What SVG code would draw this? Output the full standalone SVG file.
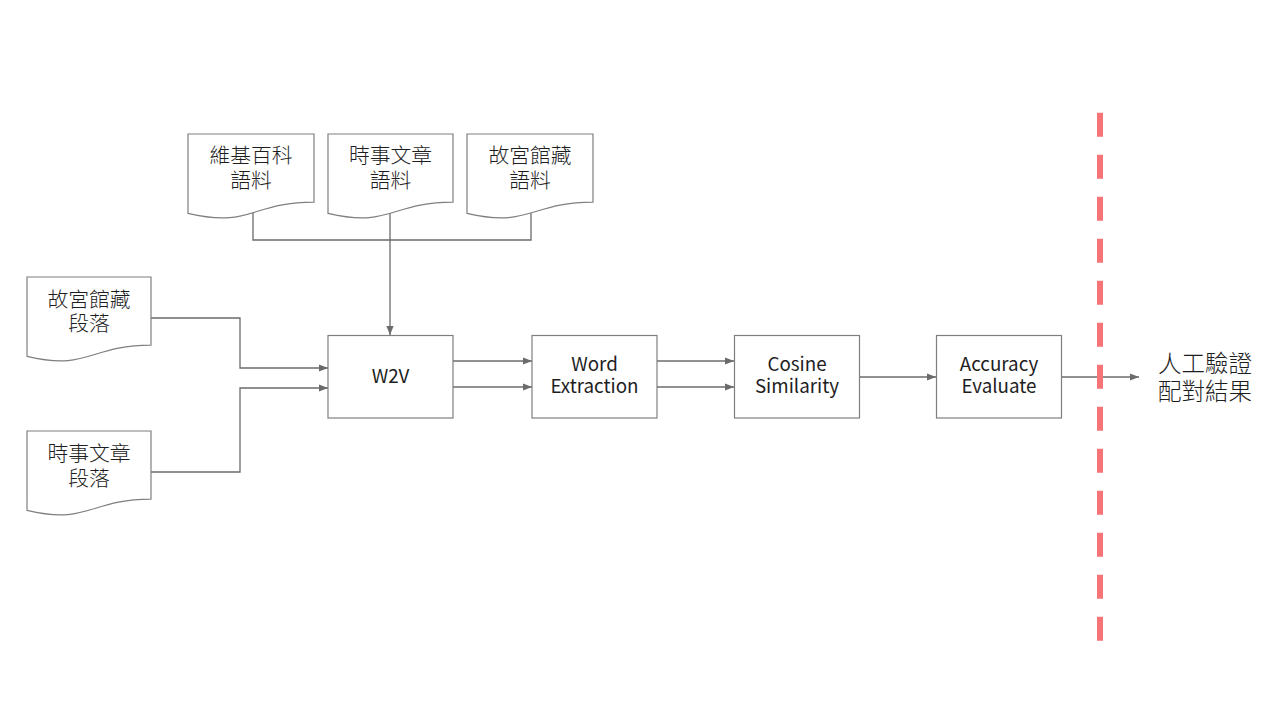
<svg xmlns="http://www.w3.org/2000/svg" width="1280" height="720" viewBox="0 0 1280 720">
<defs>
<style>
.doc,.box{fill:#FFFFFF;stroke:#7F7F7F;stroke-width:1.2}
.con{fill:none;stroke:#6B6B6B;stroke-width:1.3}
.t{font-family:"Noto Sans CJK TC","Noto Sans CJK SC","Noto Sans",sans-serif;fill:#1E1E1E;text-anchor:middle}
.cj{font-size:20.8px;font-weight:300}
.en{font-size:18.8px}
.res{font-size:23.5px;font-weight:300;text-anchor:start}
</style>
<marker id="arr" viewBox="0 0 10 10" refX="10" refY="5" markerWidth="9" markerHeight="9" markerUnits="userSpaceOnUse" orient="auto">
<path d="M0,1 L10,5 L0,9 Z" fill="#6B6B6B"/>
</marker>
</defs>
<rect width="1280" height="720" fill="#FFFFFF"/>
<g id="connectors">
<path class="con" d="M253,213 V240 H531 V213"/>
<path class="con" d="M390,213 V335" marker-end="url(#arr)"/>
<path class="con" d="M151,318 H240 V368 H328" marker-end="url(#arr)"/>
<path class="con" d="M151,472 H240 V388 H328" marker-end="url(#arr)"/>
<path class="con" d="M453,361 H532" marker-end="url(#arr)"/>
<path class="con" d="M453,387 H532" marker-end="url(#arr)"/>
<path class="con" d="M657,361 H734" marker-end="url(#arr)"/>
<path class="con" d="M657,387 H734" marker-end="url(#arr)"/>
<path class="con" d="M859,377 H936" marker-end="url(#arr)"/>
<path class="con" d="M1061,377 H1139" marker-end="url(#arr)"/>
</g>
<g id="doc-wiki">
<path class="doc" d="M188,134 H314 V202.2 C251,202.2 251,228.1 188,213.4 Z"/>
<text class="t cj" x="251" y="162.5">維基百科</text>
<text class="t cj" x="251" y="187.5">語料</text>
</g>
<g id="doc-news">
<path class="doc" d="M328,134 H453 V202.2 C390.5,202.2 390.5,228.1 328,213.4 Z"/>
<text class="t cj" x="390.5" y="162.5">時事文章</text>
<text class="t cj" x="390.5" y="187.5">語料</text>
</g>
<g id="doc-palace">
<path class="doc" d="M467,134 H593 V202.2 C530,202.2 530,228.1 467,213.4 Z"/>
<text class="t cj" x="530" y="162.5">故宮館藏</text>
<text class="t cj" x="530" y="187.5">語料</text>
</g>
<g id="doc-palace-para">
<path class="doc" d="M27,277 H151 V345.2 C89,345.2 89,371.1 27,356.4 Z"/>
<text class="t cj" x="89" y="306.5">故宮館藏</text>
<text class="t cj" x="89" y="330.5">段落</text>
</g>
<g id="doc-news-para">
<path class="doc" d="M27,431 H151 V499.2 C89,499.2 89,525.1 27,510.4 Z"/>
<text class="t cj" x="89" y="460.5">時事文章</text>
<text class="t cj" x="89" y="485.5">段落</text>
</g>
<g id="w2v">
<rect class="box" x="328" y="335.5" width="125" height="82.5"/>
<text class="t en" x="390.5" y="383">W2V</text>
</g>
<g id="word-extraction">
<rect class="box" x="532" y="335.5" width="125" height="82.5"/>
<text class="t en" x="594.5" y="370.5">Word</text>
<text class="t en" x="594.5" y="393">Extraction</text>
</g>
<g id="cosine-similarity">
<rect class="box" x="734.5" y="335.5" width="125" height="82.5"/>
<text class="t en" x="797" y="370.5">Cosine</text>
<text class="t en" x="797" y="393">Similarity</text>
</g>
<g id="accuracy-evaluate">
<rect class="box" x="936.5" y="335.5" width="125" height="82.5"/>
<text class="t en" x="999" y="370.5">Accuracy</text>
<text class="t en" x="999" y="393">Evaluate</text>
</g>
<g id="divider">
<line x1="1100" y1="112.7" x2="1100" y2="640.7" stroke="#F47478" stroke-width="6" stroke-dasharray="24 18"/>
</g>
<g id="result">
<text class="t res" x="1158" y="372">人工驗證</text>
<text class="t res" x="1158" y="400">配對結果</text>
</g>
</svg>
